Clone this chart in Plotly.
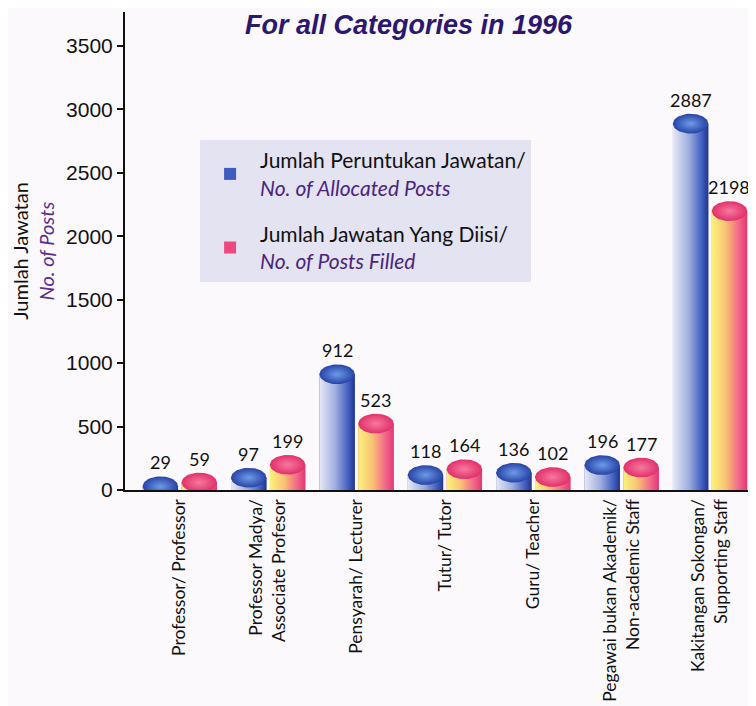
import numpy as np
import plotly.graph_objects as go

categories = [
    "Professor/ Professor",
    "Professor Madya/<br>Associate Profesor",
    "Pensyarah/ Lecturer",
    "Tutur/ Tutor",
    "Guru/ Teacher",
    "Pegawai bukan Akademik/<br>Non-academic Staff",
    "Kakitangan Sokongan/<br>Supporting Staff",
]
allocated = [29, 97, 912, 118, 136, 196, 2887]
filled = [59, 199, 523, 164, 102, 177, 2198]
y_ticks = [0, 500, 1000, 1500, 2000, 2500, 3000, 3500]

name_alloc = "Jumlah Peruntukan Jawatan/<br><i><span style='color:#4a2480'>No. of Allocated Posts</span></i>"
name_fill = "Jumlah Jawatan Yang Diisi/<br><i><span style='color:#4a2480'>No. of Posts Filled</span></i>"

BAR_W = 0.40
CAP_H = 78  # half-height of the cylinder cap, in data units
xs = list(range(len(categories)))

series = [
    dict(name=name_alloc, vals=allocated, offset=-0.42, color="#3d5cc0", group="a",
         body=[[0, "#e6e8f5"], [0.45, "#9eaee0"], [0.8, "#4563c4"], [1, "#22358c"]],
         cap=[[0, "#6e9ae8"], [1, "#2744a6"]]),
    dict(name=name_fill, vals=filled, offset=0.02, color="#ec4a7e", group="b",
         body=[[0, "#fbf27c"], [0.4, "#f9c274"], [0.75, "#f36a8a"], [1, "#e23872"]],
         cap=[[0, "#f67a9c"], [1, "#e2306c"]]),
]

fig = go.Figure()
for s in series:
    fig.add_trace(go.Bar(
        x=xs, y=s["vals"], width=BAR_W, offset=s["offset"],
        marker=dict(color=s["color"], line=dict(width=0)),
        name=s["name"], legendgroup=s["group"], showlegend=True,
    ))

t = np.linspace(0, 2 * np.pi, 60)
for s in series:
    for i, v in zip(xs, s["vals"]):
        x0 = i + s["offset"]
        x1 = x0 + BAR_W
        cx = (x0 + x1) / 2
        fig.add_trace(go.Scatter(
            x=[x0, x1, x1, x0, x0], y=[0, 0, v, v, 0], mode="lines",
            fill="toself", line=dict(width=0),
            fillgradient=dict(type="horizontal", colorscale=s["body"]),
            showlegend=False, hoverinfo="skip", legendgroup=s["group"],
        ))
        fig.add_trace(go.Scatter(
            x=cx + (BAR_W / 2) * np.cos(t), y=v + CAP_H * np.sin(t), mode="lines",
            fill="toself", line=dict(width=0),
            fillgradient=dict(type="radial", colorscale=s["cap"]),
            showlegend=False, hoverinfo="skip", legendgroup=s["group"],
        ))
        fig.add_annotation(
            x=cx, y=v, text=str(v), showarrow=False, yanchor="bottom",
            yshift=11, font=dict(family="Lato, Arial", size=18, color="#111111"),
        )

fig.add_annotation(
    xref="paper", yref="paper", x=0.45, y=1.0, yanchor="middle", yshift=-13,
    text="<b><i>For all Categories in 1996</i></b>", showarrow=False,
    font=dict(family="Liberation Sans, Arial", size=27, color="#2b1670"),
)

fig.update_layout(
    width=748, height=698,
    margin=dict(l=117, r=0, t=4, b=216),
    paper_bgcolor="#fbf9fc", plot_bgcolor="#fbf9fc",
    barmode="overlay",
    legend=dict(
        x=0.119, y=0.732, xanchor="left", yanchor="top",
        bgcolor="#e3e3f1", borderwidth=0,
        font=dict(family="Lato, Arial", size=21, color="#111111"),
        itemsizing="constant", itemwidth=50, tracegroupgap=16,
    ),
    xaxis=dict(
        range=[-0.62, 6.52], tickmode="array", tickvals=xs, ticktext=categories,
        tickangle=-90, showgrid=False, zeroline=False,
        showline=True, linecolor="#111111", linewidth=2, ticks="",
        tickfont=dict(family="Lato, Arial", size=17.5, color="#111111"),
    ),
    yaxis=dict(
        range=[0, 3767], tickmode="array", tickvals=y_ticks,
        showgrid=False, zeroline=False, showline=True, linecolor="#111111",
        linewidth=2, ticks="outside", ticklen=6, tickwidth=2, tickcolor="#111111",
        tickfont=dict(family="Liberation Sans, Arial", size=21, color="#111111"),
        title=dict(
            text="Jumlah Jawatan<br><i><span style='color:#5a2d91'>No. of Posts</span></i>",
            font=dict(family="Lato, Arial", size=20, color="#111111"), standoff=14,
        ),
    ),
)

fig.write_html("out.html")
